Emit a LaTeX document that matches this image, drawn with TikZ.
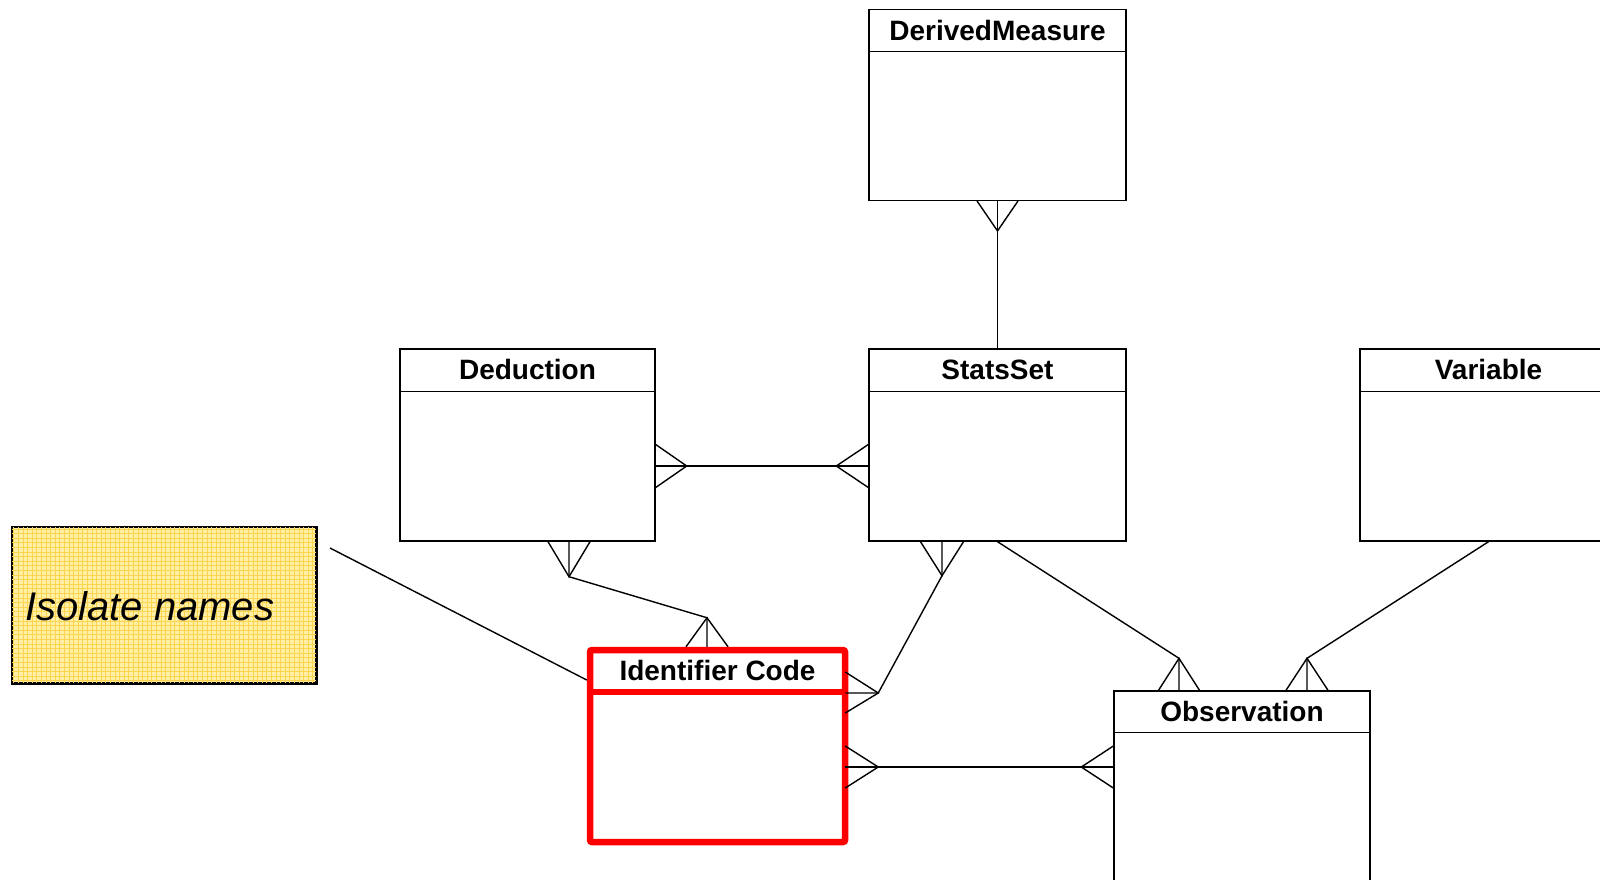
\documentclass[tikz,border=0pt]{standalone}
\usepackage{fontspec}
\setmainfont{Liberation Sans}
\usetikzlibrary{calc}
\definecolor{icred}{RGB}{255,0,0}
\definecolor{noteyel}{RGB}{255,240,165}
\definecolor{notegrid}{RGB}{252,212,80}
\tikzset{
  entity/.style={draw=black, line width=1.4pt, fill=white, inner sep=0pt, minimum width=257pt, minimum height=192pt},
  redentity/.style={draw=icred, line width=6.5pt, fill=white, inner sep=0pt, rounded corners=2pt, minimum width=255pt, minimum height=192pt},
  title/.style={inner sep=0pt, font=\fontsize{28}{34}\selectfont\bfseries},
  conn/.style={draw=black, line width=1.4pt},
  notebox/.style={draw=black, line width=1.5pt, fill=noteyel, inner sep=0pt, minimum width=304pt, minimum height=156pt},
  notetext/.style={inner sep=0pt, anchor=base west, font=\fontsize{40}{48}\selectfont\itshape}
}
\begin{document}
\begin{tikzpicture}[x=1pt,y=-1pt]
\useasboundingbox (0,0) rectangle (1600,879);
\clip (0,0) rectangle (1600,879);

% entities
\node[entity, minimum height=190.5pt] (dm) at (997.5,105) {};
\draw[conn] ($(dm.north west)+(0,42.5)$) -- ($(dm.north east)+(0,42.5)$);
\node[title] (dmt) at ($(dm.north)+(0,21.5)$) {DerivedMeasure};

\node[entity] (ss) at (997.5,445) {};
\draw[conn] ($(ss.north west)+(0,43)$) -- ($(ss.north east)+(0,43)$);
\node[title] (sst) at ($(ss.north)+(0,21.5)$) {StatsSet};

\node[entity, minimum width=255pt] (dd) at (527.5,445) {};
\draw[conn] ($(dd.north west)+(0,43)$) -- ($(dd.north east)+(0,43)$);
\node[title] (ddt) at ($(dd.north)+(0,21.5)$) {Deduction};

\node[entity] (var) at (1488.5,445) {};
\draw[conn] ($(var.north west)+(0,43)$) -- ($(var.north east)+(0,43)$);
\node[title] (vart) at ($(var.north)+(0,21.5)$) {Variable};

\node[entity, minimum width=256pt, minimum height=230pt] (obs) at (1242,806) {};
\draw[conn] ($(obs.north west)+(0,42)$) -- ($(obs.north east)+(0,42)$);
\node[title] (obst) at ($(obs.north)+(0,21)$) {Observation};

\node[redentity] (ic) at (717.5,746) {};
\draw[draw=icred, line width=6.5pt] ($(ic.north west)+(3.25,45.25)$) -- ($(ic.north east)+(-3.25,45.25)$);
\node[title] (ict) at ($(ic.north)+(0,24)$) {Identifier Code};

% note
\node[notebox] (note) at (164,605) {};
\begin{scope}
  \clip (note.south west) rectangle (note.north east);
  \draw[notegrid, line width=0.7pt, step=4.6pt] (note.south west) grid (note.north east);
\end{scope}
\draw[black, line width=1.5pt] (note.south west) rectangle (note.north east);
\node[notetext] (notetxt) at (25,620) {Isolate names};

% DerivedMeasure - StatsSet
\draw[conn] (dm.south) -- (ss.north);
\coordinate (dmT) at ($(dm.south)+(0,30)$);
\draw[conn] ($(dm.south)+(-20.5,0)$) -- (dmT) -- ($(dm.south)+(20.5,0)$);

% Deduction - StatsSet
\coordinate (ddE) at ($(dd.east)+(0,21)$);
\coordinate (ssW) at ($(ss.west)+(0,21)$);
\draw[conn] (ddE) -- (ssW);
\coordinate (ddET) at ($(ddE)+(31,0)$);
\coordinate (ssWT) at ($(ssW)+(-32,0)$);
\draw[conn] ($(ddE)+(0,-21.5)$) -- (ddET) -- ($(ddE)+(0,21.5)$);
\draw[conn] ($(ssW)+(0,-21.5)$) -- (ssWT) -- ($(ssW)+(0,21.5)$);

% Deduction - Identifier Code
\coordinate (ddS) at ($(dd.south)+(41.5,0)$);
\coordinate (ddST) at ($(ddS)+(0,35)$);
\coordinate (icN) at ($(ic.north)+(-10.5,0)$);
\coordinate (icNT) at ($(icN)+(0,-29)$);
\draw[conn] (ddS) -- (ddST) -- (icNT) -- (icN);
\draw[conn] ($(ddS)+(-21,0)$) -- (ddST) -- ($(ddS)+(21,0)$);
\draw[conn] ($(icN)+(-21,0)$) -- (icNT) -- ($(icN)+(21,0)$);

% StatsSet - Identifier Code
\coordinate (ssS) at ($(ss.south)+(-55.5,0)$);
\coordinate (ssST) at ($(ssS)+(0,34)$);
\coordinate (icE1) at ($(ic.east)+(-3,-53)$);
\coordinate (icE1T) at ($(icE1)+(33,0)$);
\draw[conn] (ssS) -- (ssST) -- (icE1T) -- (icE1);
\draw[conn] ($(ssS)+(-21.5,0)$) -- (ssST) -- ($(ssS)+(21.5,0)$);
\draw[conn] ($(icE1)+(0,-21)$) -- (icE1T) -- ($(icE1)+(0,20)$);

% Identifier Code - Observation
\coordinate (icE2) at ($(ic.east)+(-3,21)$);
\coordinate (obsW) at (obs.west |- icE2);
\draw[conn] (icE2) -- (obsW);
\coordinate (icE2T) at ($(icE2)+(33,0)$);
\coordinate (obsWT) at ($(obsW)+(-32,0)$);
\draw[conn] ($(icE2)+(0,-21)$) -- (icE2T) -- ($(icE2)+(0,21)$);
\draw[conn] ($(obsW)+(0,-21)$) -- (obsWT) -- ($(obsW)+(0,21)$);

% StatsSet - Observation
\coordinate (obsN1) at ($(obs.north)+(-63,0)$);
\coordinate (obsN1T) at ($(obsN1)+(0,-32)$);
\draw[conn] (ss.south) -- (obsN1T) -- (obsN1);
\draw[conn] ($(obsN1)+(-20.5,0)$) -- (obsN1T) -- ($(obsN1)+(20.5,0)$);

% Variable - Observation
\coordinate (obsN2) at ($(obs.north)+(65,0)$);
\coordinate (obsN2T) at ($(obsN2)+(0,-32)$);
\draw[conn] (var.south) -- (obsN2T) -- (obsN2);
\draw[conn] ($(obsN2)+(-21,0)$) -- (obsN2T) -- ($(obsN2)+(21,0)$);

% note connector
\coordinate (noteend) at (330,548);
\draw[conn] (noteend) -- ($(ic.west)+(0,-66)$);
\end{tikzpicture}
\end{document}
